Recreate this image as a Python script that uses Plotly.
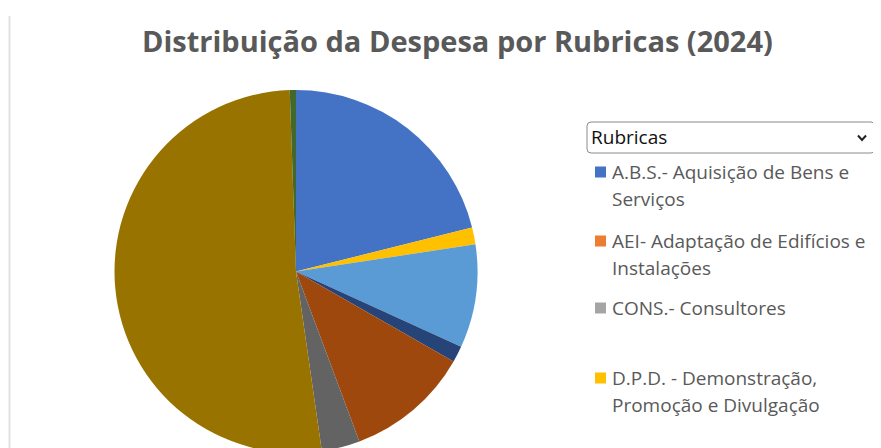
import plotly.graph_objects as go

# ---- data ----
labels = [
    "A.B.S.- Aquisição de Bens e Serviços",
    "AEI- Adaptação de Edifícios e Instalações",
    "CONS.- Consultores",
    "D.P.D. - Demonstração, Promoção e Divulgação",
    "EQ.- Equipamento",
    "G.G.- Gastos Gerais",
    "MIS.- Missões",
    "O.D.- Outras Despesas",
    "P.I.- Propriedade Intelectual",
    "R.H.- Recursos Humanos",
    "R.P.- Registo de Patentes",
    "S.E.- Serviços Externos",
]
values = [21.1, 0, 0, 1.5, 9.2, 0, 1.45, 11.05, 3.4, 51.7, 0, 0.55]
colors = ["#4472C4", "#ED7D31", "#A5A5A5", "#FFC000", "#5B9BD5", "#70AD47",
          "#264478", "#9E480E", "#636363", "#997300", "#255E91", "#43682B"]
# legend text as wrapped in the visible part of the legend box
legend_lines = [
    ["A.B.S.- Aquisição de Bens e", "Serviços"],
    ["AEI- Adaptação de Edifícios e", "Instalações"],
    ["CONS.- Consultores"],
    ["D.P.D. - Demonstração,", "Promoção e Divulgação"],
]
title_text = "Distribuição da Despesa por Rubricas (2024)"
legend_title = "Rubricas"

W, H = 881, 448
OFF = 8  # page body margin
cx, cy, r = 296 - OFF, 271.5 - OFF, 181.5

fig = go.Figure()
fig.add_trace(go.Pie(
    labels=labels, values=values, sort=False, direction="clockwise", rotation=0,
    marker=dict(colors=colors, line=dict(width=0)),
    textinfo="none", hoverinfo="label+percent", showlegend=False,
    domain=dict(x=[(cx - r) / W, (cx + r) / W], y=[(H - cy - r) / H, (H - cy + r) / H]),
))

shapes = []
annotations = []
# left border line
shapes.append(dict(type="line", xref="x", yref="y", x0=9.5 - OFF, x1=9.5 - OFF, y0=16 - OFF, y1=H,
                   line=dict(color="#e2e2e2", width=2)))
# title
annotations.append(dict(xref="x", yref="y", x=457 - OFF, y=40 - OFF, text=title_text, showarrow=False,
                        xanchor="center", yanchor="middle",
                        font=dict(family="Open Sans", size=29, color="#595959", weight="bold")))
# dropdown box
x0, x1, y0, y1, rr = 587 - OFF, 875 - OFF, 122 - OFF, 153 - OFF, 4
path = (f"M{x0+rr},{y0} L{x1-rr},{y0} Q{x1},{y0} {x1},{y0+rr} L{x1},{y1-rr} Q{x1},{y1} {x1-rr},{y1} "
        f"L{x0+rr},{y1} Q{x0},{y1} {x0},{y1-rr} L{x0},{y0+rr} Q{x0},{y0} {x0+rr},{y0} Z")
shapes.append(dict(type="path", xref="x", yref="y", path=path,
                   line=dict(color="#8a8a8a", width=1), fillcolor="white"))
chx, chy = 862 - OFF, 138 - OFF
shapes.append(dict(type="path", xref="x", yref="y",
                   path=f"M{chx-4},{chy-2.5} L{chx},{chy+2} L{chx+4},{chy-2.5}",
                   line=dict(color="#222222", width=2)))
annotations.append(dict(xref="x", yref="y", x=589 - OFF, y=137 - OFF, text=legend_title, showarrow=False,
                        xanchor="left", yanchor="middle",
                        font=dict(family="Open Sans", size=19, color="#111111")))
# legend entries
item_top = [172, 241, 308, 378]
for i, lines in enumerate(legend_lines):
    yy = item_top[i] - OFF
    shapes.append(dict(type="rect", xref="x", yref="y", x0=595 - OFF, x1=606 - OFF, y0=yy - 5.5, y1=yy + 5.5,
                       fillcolor=colors[i], line=dict(width=0)))
    for j, ln in enumerate(lines):
        annotations.append(dict(xref="x", yref="y", x=610 - OFF, y=yy + 26.5 * j, text=ln, showarrow=False,
                                xanchor="left", yanchor="middle",
                                font=dict(family="Open Sans", size=19, color="#595959")))

fig.update_layout(
    width=W, height=H, margin=dict(l=0, r=0, t=0, b=0),
    paper_bgcolor="white", plot_bgcolor="rgba(0,0,0,0)",
    xaxis=dict(range=[0, W], visible=False, fixedrange=True, domain=[0, 1]),
    yaxis=dict(range=[H, 0], visible=False, fixedrange=True, domain=[0, 1]),
    shapes=shapes, annotations=annotations,
)
fig.write_html("out.html")
